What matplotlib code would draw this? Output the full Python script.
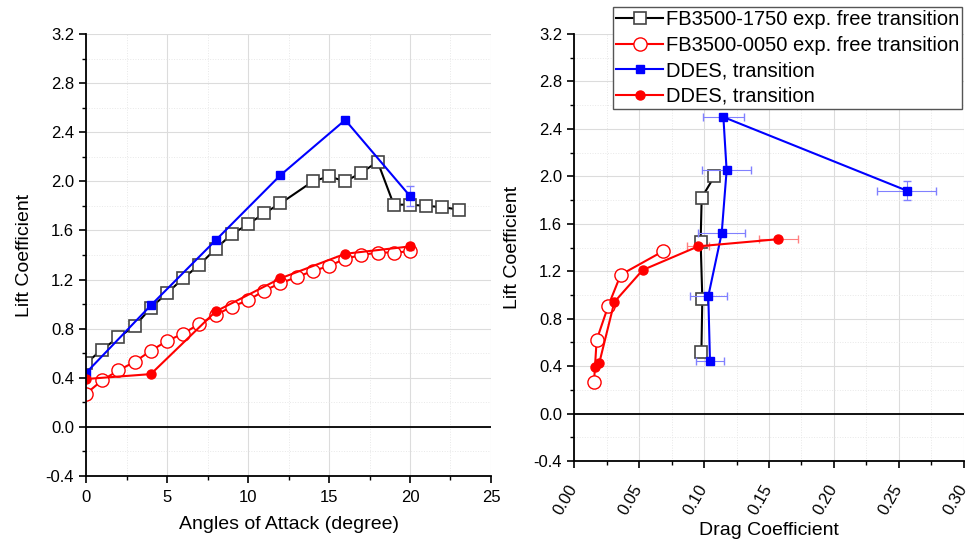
import matplotlib.pyplot as plt
from matplotlib.ticker import MultipleLocator, FormatStrFormatter

plt.rcParams['font.family'] = ['Liberation Sans', 'DejaVu Sans']

# Experimental lift curves (angle of attack in degrees)
aoa_1750 = [0, 1, 2, 3, 4, 5, 6, 7, 8, 9, 10, 11, 12, 14, 15, 16, 17, 18, 19, 20, 21, 22, 23]
cl_1750 = [0.52, 0.63, 0.73, 0.82, 0.97, 1.09, 1.21, 1.32, 1.45, 1.57, 1.65, 1.74, 1.82,
           2.00, 2.04, 2.00, 2.07, 2.16, 1.81, 1.81, 1.80, 1.79, 1.77]
aoa_0050 = [0, 1, 2, 3, 4, 5, 6, 7, 8, 9, 10, 11, 12, 13, 14, 15, 16, 17, 18, 19, 20]
cl_0050 = [0.27, 0.38, 0.46, 0.53, 0.62, 0.70, 0.76, 0.84, 0.91, 0.98, 1.03, 1.11, 1.17,
           1.22, 1.27, 1.31, 1.37, 1.40, 1.42, 1.42, 1.43]

# DDES results
aoa_ddes = [0, 4, 8, 12, 16, 20]
cl_ddes_blue = [0.44, 0.99, 1.52, 2.05, 2.50, 1.88]
cl_ddes_red = [0.39, 0.43, 0.94, 1.21, 1.41, 1.47]
clerr_blue = [0, 0, 0, 0, 0, 0.08]
clerr_red = [0, 0, 0, 0, 0, 0.03]

# Drag polar data
cd_1750 = [0.098, 0.0987, 0.0974, 0.0982, 0.108]
clp_1750 = [0.52, 0.97, 1.45, 1.82, 2.00]
cd_0050 = [0.0154, 0.0174, 0.0264, 0.0359, 0.0687]
clp_0050 = [0.27, 0.62, 0.91, 1.17, 1.37]
cd_ddes_blue = [0.1046, 0.1033, 0.1136, 0.1174, 0.1149, 0.2559]
cderr_blue = [0.011, 0.0144, 0.018, 0.019, 0.016, 0.0225]
cd_ddes_red = [0.0162, 0.0195, 0.031, 0.0528, 0.0956, 0.157]
cderr_red = [0, 0, 0, 0, 0.0085, 0.015]

labels = ['FB3500-1750 exp. free transition', 'FB3500-0050 exp. free transition',
          'DDES, transition', 'DDES, transition']

fig = plt.figure(figsize=(9.69, 5.46), dpi=100)
ax1 = fig.add_axes([0.0888, 0.1282, 0.4179, 0.8095])
ax2 = fig.add_axes([0.5924, 0.1557, 0.4024, 0.7820])

sq_exp = dict(color='black', marker='s', markersize=9, markerfacecolor='white',
              markeredgecolor='#444444', markeredgewidth=1.2, linewidth=1.5)
ci_exp = dict(color='red', marker='o', markersize=9.5, markerfacecolor='white',
              markeredgecolor='red', markeredgewidth=1.0, linewidth=1.5)
sq_ddes = dict(color='blue', marker='s', markersize=6, linewidth=1.5)
ci_ddes = dict(color='red', marker='o', markersize=6.5, linewidth=1.5)


def style_axes(ax):
    for side in ['top', 'right']:
        ax.spines[side].set_visible(False)
    for side in ['left', 'bottom']:
        ax.spines[side].set_linewidth(1.3)
    ax.set_ylim(-0.4, 3.2)
    ax.yaxis.set_major_locator(MultipleLocator(0.4))
    ax.yaxis.set_minor_locator(MultipleLocator(0.2))
    ax.yaxis.set_major_formatter(FormatStrFormatter('%.1f'))
    ax.tick_params(which='major', direction='out', length=5, width=1.2, labelsize=12)
    ax.tick_params(which='minor', direction='out', length=3, width=1.0)
    ax.grid(which='major', color='#dcdcdc', linewidth=0.8)
    ax.grid(which='minor', color='#e8e8e8', linewidth=0.7, linestyle=':')
    ax.set_axisbelow(True)
    ax.axhline(0, color='black', linewidth=1.3, zorder=1.5)
    ax.set_ylabel('Lift Coefficient', fontsize=14, labelpad=9)


# Left: lift versus angle of attack
ax1.plot(aoa_1750, cl_1750, **sq_exp)
ax1.plot(aoa_0050, cl_0050, **ci_exp)
ax1.errorbar(aoa_ddes, cl_ddes_blue, yerr=clerr_blue, ecolor='#8080ff', elinewidth=0.8,
             capsize=3, **sq_ddes)
ax1.errorbar(aoa_ddes, cl_ddes_red, yerr=clerr_red, ecolor='#ff8080', elinewidth=0.8,
             capsize=3, **ci_ddes)
ax1.set_xlim(0, 25)
ax1.xaxis.set_major_locator(MultipleLocator(5))
ax1.xaxis.set_minor_locator(MultipleLocator(2.5))
style_axes(ax1)
ax1.tick_params(axis='x', pad=5)
ax1.set_xlabel('Angles of Attack (degree)', fontsize=14, labelpad=8)

# Right: drag polar
h1, = ax2.plot(cd_1750, clp_1750, **sq_exp)
h2, = ax2.plot(cd_0050, clp_0050, **ci_exp)
h3 = ax2.errorbar(cd_ddes_blue, cl_ddes_blue, xerr=cderr_blue, yerr=clerr_blue,
                  ecolor='#8080ff', elinewidth=0.8, capsize=3, **sq_ddes)
h4 = ax2.errorbar(cd_ddes_red, cl_ddes_red, xerr=cderr_red, ecolor='#ff8080',
                  elinewidth=0.8, capsize=3, **ci_ddes)
ax2.set_xlim(0, 0.30)
ax2.xaxis.set_major_locator(MultipleLocator(0.05))
ax2.xaxis.set_minor_locator(MultipleLocator(0.025))
ax2.xaxis.set_major_formatter(FormatStrFormatter('%.2f'))
style_axes(ax2)
ax2.tick_params(axis='x', pad=13)
plt.setp(ax2.get_xticklabels(), rotation=60, ha='right', va='center',
         rotation_mode='anchor')
ax2.set_xlabel('Drag Coefficient', fontsize=14, labelpad=3)

leg = fig.legend([h1, h2, h3[0], h4[0]], labels, loc='upper right',
                 bbox_to_anchor=(962 / 969, 1 - 7 / 546), bbox_transform=fig.transFigure,
                 fontsize=14.5, numpoints=1, handlelength=2.3, handletextpad=0.15,
                 labelspacing=0.33, borderpad=0.15, borderaxespad=0, fancybox=False,
                 framealpha=1, edgecolor='#555555')
leg.get_frame().set_linewidth(1.0)

fig.savefig('out.png', dpi=100)
